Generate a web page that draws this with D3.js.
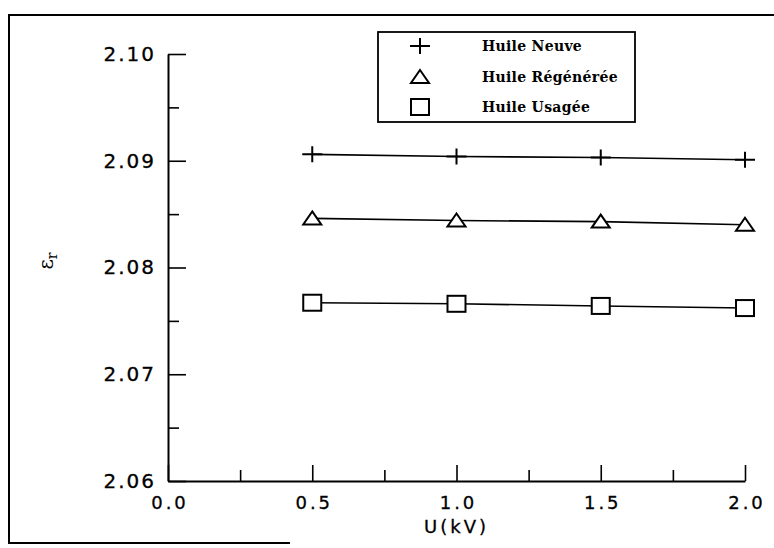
<!DOCTYPE html>
<html>
<head>
<meta charset="utf-8">
<script src="https://cdn.jsdelivr.net/npm/d3@7"></script>
<style>
  html, body { margin: 0; padding: 0; background: #fff; }
  svg { display: block; }
</style>
</head>
<body>
<svg id="chart" width="774" height="548"></svg>
<script>
// Tension applied (kV)
const voltages = [0.5, 1.0, 1.5, 2.0];
// Relative permittivity for each oil
const huileNeuve = [2.0906, 2.0904, 2.0903, 2.0901];
const huileRegeneree = [2.0846, 2.0844, 2.0843, 2.0840];
const huileUsagee = [2.0767, 2.0766, 2.0764, 2.0762];

const seriesNames = ["Huile Neuve", "Huile Régénérée", "Huile Usagée"];
const seriesSymbols = ["cross", "triangle", "square"];

const xMajorTicks = [0.0, 0.5, 1.0, 1.5, 2.0];
const xMinorTicks = [0.25, 0.75, 1.25, 1.75];
const yMajorTicks = [2.06, 2.07, 2.08, 2.09, 2.10];
const yMinorTicks = [2.065, 2.075, 2.085, 2.095];

const svg = d3.select("#chart");

const plotLeft = 168, plotRight = 745, plotTop = 54, plotBottom = 481;
const x = d3.scaleLinear().domain([0, 2]).range([plotLeft, plotRight]);
const y = d3.scaleLinear().domain([2.06, 2.10]).range([plotBottom, plotTop]);

// outer frame (left, top, part of bottom)
svg.append("path")
  .attr("d", "M290,543 H9 V15 H776")
  .attr("fill", "none")
  .attr("stroke", "#000")
  .attr("stroke-width", 2);

const tickFont = "'DejaVu Sans', sans-serif";

// y axis: major ticks inside with labels
const yAxis = svg.append("g")
  .attr("transform", `translate(${plotLeft},0)`)
  .call(d3.axisLeft(y).tickValues(yMajorTicks).tickFormat(d3.format(".2f"))
    .tickSizeInner(-18).tickSizeOuter(0).tickPadding(12));
yAxis.select(".domain").attr("stroke-width", 2);
yAxis.selectAll(".tick line").attr("stroke-width", 1.6);
yAxis.selectAll("text")
  .attr("font-family", tickFont)
  .attr("font-size", 20)
  .attr("letter-spacing", "2px")
  .attr("stroke", "#000")
  .attr("stroke-width", 0.3)
  .attr("fill", "#000");

svg.append("g")
  .attr("transform", `translate(${plotLeft},0)`)
  .call(d3.axisLeft(y).tickValues(yMinorTicks).tickFormat("")
    .tickSizeInner(-11).tickSizeOuter(0))
  .call(g => g.select(".domain").remove())
  .selectAll(".tick line").attr("stroke-width", 1.6);

// x axis: major ticks inside with labels
const xAxis = svg.append("g")
  .attr("transform", `translate(0,${plotBottom})`)
  .call(d3.axisBottom(x).tickValues(xMajorTicks).tickFormat(d3.format(".1f"))
    .tickSizeInner(-16).tickSizeOuter(0).tickPadding(15));
xAxis.select(".domain").attr("stroke-width", 2);
xAxis.selectAll(".tick line").attr("stroke-width", 1.6);
xAxis.selectAll("text")
  .attr("font-family", tickFont)
  .attr("font-size", 18)
  .attr("letter-spacing", "3px")
  .attr("dx", "1.5px")
  .attr("stroke", "#000")
  .attr("stroke-width", 0.3)
  .attr("fill", "#000");

svg.append("g")
  .attr("transform", `translate(0,${plotBottom})`)
  .call(d3.axisBottom(x).tickValues(xMinorTicks).tickFormat("")
    .tickSizeInner(-11).tickSizeOuter(0))
  .call(g => g.select(".domain").remove())
  .selectAll(".tick line").attr("stroke-width", 1.6);

// axis titles
svg.append("text")
  .attr("x", 455).attr("y", 533)
  .attr("text-anchor", "middle")
  .attr("font-family", tickFont)
  .attr("font-size", 18)
  .attr("letter-spacing", "3px")
  .attr("dx", "1.5px")
  .attr("stroke", "#000")
  .attr("stroke-width", 0.3)
  .text("U(kV)");

const yTitle = svg.append("text")
  .attr("transform", "translate(53,261) rotate(-90)")
  .attr("text-anchor", "middle")
  .attr("font-family", "'DejaVu Serif', serif")
  .attr("font-size", 20);
yTitle.append("tspan").text("ε");
yTitle.append("tspan").attr("font-size", 14).attr("dy", 4).text("r");

// marker drawing
function drawSymbol(g, kind, cx, cy) {
  if (kind === "cross") {
    g.append("path")
      .attr("d", `M${cx - 10},${cy} H${cx + 10} M${cx},${cy - 8} V${cy + 8}`)
      .attr("stroke", "#000").attr("stroke-width", 2).attr("fill", "none");
  } else if (kind === "triangle") {
    g.append("path")
      .attr("d", `M${cx},${cy - 7} L${cx + 9},${cy + 6} L${cx - 9},${cy + 6} Z`)
      .attr("stroke", "#000").attr("stroke-width", 2).attr("fill", "#fff");
  } else {
    g.append("rect")
      .attr("x", cx - 9).attr("y", cy - 8)
      .attr("width", 18).attr("height", 16)
      .attr("stroke", "#000").attr("stroke-width", 2).attr("fill", "#fff");
  }
}

const allSeries = [huileNeuve, huileRegeneree, huileUsagee];
const line = d3.line().x(d => x(d[0])).y(d => y(d[1]));

allSeries.forEach((vals, i) => {
  const pts = voltages.map((v, j) => [v, vals[j]]);
  const g = svg.append("g");
  g.append("path")
    .attr("d", line(pts))
    .attr("fill", "none")
    .attr("stroke", "#000")
    .attr("stroke-width", 1.6);
  pts.forEach(p => drawSymbol(g, seriesSymbols[i], x(p[0]), y(p[1])));
});

// legend
const legend = svg.append("g");
legend.append("rect")
  .attr("x", 378).attr("y", 32)
  .attr("width", 257).attr("height", 90)
  .attr("fill", "#fff")
  .attr("stroke", "#000")
  .attr("stroke-width", 1.8);

const legendRows = [46, 77, 107];
seriesNames.forEach((name, i) => {
  drawSymbol(legend, seriesSymbols[i], 420, legendRows[i]);
  legend.append("text")
    .attr("x", 482).attr("y", legendRows[i] + 5)
    .attr("font-family", "'DejaVu Serif', serif")
    .attr("font-weight", "bold")
    .attr("font-size", 14)
    .attr("letter-spacing", "0.3px")
    .text(name);
});
</script>
</body>
</html>
